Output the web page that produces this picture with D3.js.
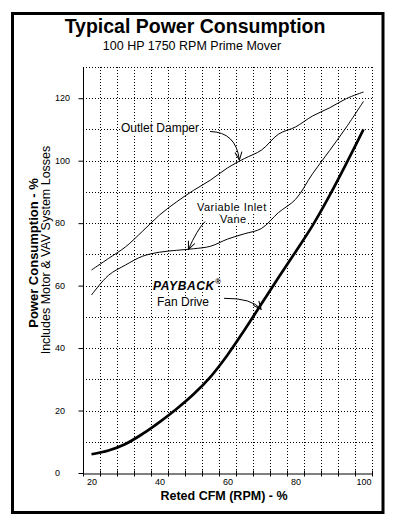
<!DOCTYPE html>
<html>
<head>
<meta charset="utf-8">
<script src="https://cdn.jsdelivr.net/npm/d3@7"></script>
<style>
  body { margin: 0; background: #fff; }
  svg { display: block; font-family: "Liberation Sans", Arial, sans-serif; }
</style>
</head>
<body>
<svg id="chart"></svg>
<script>
const width = 397
const height = 526

// rated CFM (%) the curves are read at
const rpm = [20, 25, 30, 35, 40, 45, 50, 55, 60, 65, 70, 75, 80, 85, 90, 95, 100]

// power consumption (%)
const outletDamper = [65, 68.7, 72.4, 77.4, 82.6, 86.8, 90.5, 93.8, 97.7, 100.7, 103.4, 108.5, 110.8, 114.3, 116.9, 119.9, 122]
const inletVane = [57, 63.3, 66.6, 69.4, 70.7, 71.3, 71.8, 72.6, 74.9, 76.6, 78.3, 83.4, 87.6, 95.8, 103.2, 110.8, 119]
const payback = [6, 7.2, 9.3, 12.5, 16.3, 20.5, 25.2, 30.8, 37.8, 45.8, 54.2, 62.6, 70.8, 79.2, 88.8, 99.2, 110]

const xLabels = [20, 40, 60, 80, 100]
const yLabels = [0, 20, 40, 60, 80, 100, 120]

const svg = d3.select('#chart')
  .attr('width', width)
  .attr('height', height)

svg.append('rect')
  .attr('width', width).attr('height', height)
  .attr('fill', '#fff')

// frame
svg.append('rect')
  .attr('x', 12.5).attr('y', 13.5)
  .attr('width', 370.5).attr('height', 499)
  .attr('fill', 'none')
  .attr('stroke', '#000')
  .attr('stroke-width', 3)

// scales (the axis starts half a step left of 20)
const x = d3.scaleLinear().domain([17.5, 102.5]).range([83, 372])
const y = d3.scaleLinear().domain([0, 130]).range([473, 67])

const tickPos = d3.range(17.5, 103, 5)

// dotted grid
const grid = svg.append('g')
  .attr('stroke', '#000')
  .attr('stroke-width', 1)
  .attr('stroke-dasharray', '1,2')
  .attr('shape-rendering', 'crispEdges')

grid.selectAll('.v')
  .data(tickPos.slice(1))
  .join('line')
  .attr('x1', d => Math.round(x(d)) + 0.5).attr('x2', d => Math.round(x(d)) + 0.5)
  .attr('y1', y(0)).attr('y2', y(130))

grid.selectAll('.h')
  .data(d3.range(10, 131, 10))
  .join('line')
  .attr('x1', x(17.5)).attr('x2', x(102.5))
  .attr('y1', d => Math.round(y(d)) + 0.5).attr('y2', d => Math.round(y(d)) + 0.5)

// axes
const xAxis = svg.append('g')
  .attr('transform', `translate(0,${Math.round(y(0)) + 0.5})`)
  .call(d3.axisBottom(x).tickValues(tickPos).tickSize(3).tickSizeOuter(0).tickFormat(''))
xAxis.selectAll('.tick line').attr('y1', -3)

svg.append('g')
  .attr('transform', `translate(0,${Math.round(y(0)) + 0.5})`)
  .call(d3.axisBottom(x).tickValues(xLabels).tickSize(0).tickPadding(5.5))
  .call(g => g.select('.domain').remove())
  .selectAll('text')
  .attr('font-size', 9)
  .attr('font-family', '"Liberation Sans", Arial, sans-serif')

const yAxis = svg.append('g')
  .attr('transform', `translate(${Math.round(x(17.5)) + 0.5},0)`)
  .call(d3.axisLeft(y).tickValues(yLabels).tickSize(5).tickSizeOuter(0).tickFormat(''))
yAxis.select('.domain').attr('d', `M0,${y(0)}V${y(130)}`)

svg.append('g')
  .selectAll('text')
  .data(yLabels)
  .join('text')
  .attr('x', 55)
  .attr('y', d => y(d))
  .attr('dy', '0.35em')
  .attr('font-size', 9)
  .text(d => d)

// curves
const line = d3.line()
  .x((d, i) => x(rpm[i]))
  .y(d => y(d))
  .curve(d3.curveCatmullRom)

svg.append('path').datum(outletDamper)
  .attr('d', line).attr('fill', 'none').attr('stroke', '#000').attr('stroke-width', 1)
svg.append('path').datum(inletVane)
  .attr('d', line).attr('fill', 'none').attr('stroke', '#000').attr('stroke-width', 1)
svg.append('path').datum(payback)
  .attr('d', line).attr('fill', 'none').attr('stroke', '#000').attr('stroke-width', 2.7)

// titles
svg.append('text')
  .attr('x', 195).attr('y', 33)
  .attr('text-anchor', 'middle')
  .attr('font-size', 19.5).attr('font-weight', 'bold')
  .text('Typical Power Consumption')

svg.append('text')
  .attr('x', 192).attr('y', 50)
  .attr('text-anchor', 'middle')
  .attr('font-size', 12.5)
  .text('100 HP 1750 RPM Prime Mover')

svg.append('text')
  .attr('transform', 'translate(38,253) rotate(-90)')
  .attr('text-anchor', 'middle')
  .attr('font-size', 13).attr('font-weight', 'bold')
  .text('Power Consumption - %')

svg.append('text')
  .attr('transform', 'translate(49.5,250) rotate(-90)')
  .attr('text-anchor', 'middle')
  .attr('font-size', 12.5)
  .text('Includes Motor & VAV System Losses')

svg.append('text')
  .attr('x', 224).attr('y', 499.5)
  .attr('text-anchor', 'middle')
  .attr('font-size', 12.5).attr('font-weight', 'bold')
  .text('Reted CFM (RPM) - %')

// annotations
svg.append('defs').append('marker')
  .attr('id', 'arrow')
  .attr('markerUnits', 'userSpaceOnUse')
  .attr('viewBox', '-1 -5 10 10')
  .attr('markerWidth', 10).attr('markerHeight', 10)
  .attr('refX', 8).attr('refY', 0)
  .attr('orient', 'auto')
  .append('path')
  .attr('d', 'M0,-3.5L8,0L0,3.5')
  .attr('fill', 'none').attr('stroke', '#000').attr('stroke-width', 1)

const notes = [
  { text: 'Outlet Damper', x: 121, y: 132, size: 12 },
  { text: 'Variable Inlet', x: 197, y: 210.5, size: 11, spacing: 0.45 },
  { text: 'Vane', x: 220, y: 223, size: 11, spacing: 0.45 },
  { text: 'PAYBACK', x: 153, y: 289.5, size: 12, bold: true, spacing: 0.6 },
  { text: 'Fan Drive', x: 157, y: 305.5, size: 12 }
]

const noteG = svg.append('g')
notes.forEach(n => {
  const t = noteG.append('text')
    .attr('x', n.x).attr('y', n.y)
    .attr('font-size', n.size)
    .attr('font-weight', n.bold ? 'bold' : null)
    .attr('font-style', n.bold ? 'italic' : null)
    .attr('letter-spacing', n.spacing || null)
    .text(n.text)
  const b = t.node().getBBox()
  noteG.insert('rect', 'text')
    .attr('x', b.x - 1).attr('y', n.y - n.size * 0.78)
    .attr('width', b.width + 2).attr('height', n.size * 0.98)
    .attr('fill', '#fff')
})

svg.append('text')
  .attr('x', 215).attr('y', 284)
  .attr('font-size', 8).attr('font-weight', 'bold')
  .text('\u00AE')

const arrows = [
  { from: [210, 131.5], ctrl: [236, 132], to: [x(63.5), y(100.2)] },
  { from: [205, 221.5], ctrl: [197, 230], to: [x(48.5), y(71.6)] },
  { from: [224, 298.3], ctrl: [252, 298], to: [x(69.9), y(52.4)] }
]

svg.append('g')
  .selectAll('path')
  .data(arrows)
  .join('path')
  .attr('d', d => `M${d.from}Q${d.ctrl} ${d.to}`)
  .attr('fill', 'none')
  .attr('stroke', '#000')
  .attr('stroke-width', 1)
  .attr('marker-end', 'url(#arrow)')
</script>
</body>
</html>
